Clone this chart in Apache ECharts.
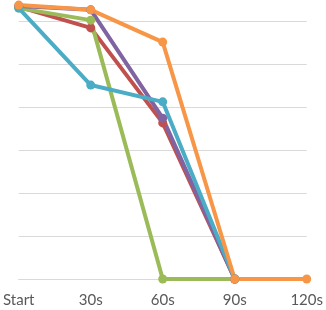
<!DOCTYPE html>
<html>
<head>
<meta charset="utf-8">
<script src="https://cdn.jsdelivr.net/npm/echarts@6/dist/echarts.min.js"></script>
<style>html,body{margin:0;padding:0;background:#fff;}#c{width:326px;height:310px;}</style>
</head>
<body>
<div id="c"></div>
<script>
const categories = ['Start', '30s', '60s', '90s', '120s'];
const redValues = [6.33, 5.84, 3.63, 0, null];
const greenValues = [6.3, 6.02, 0, 0, null];
const purpleValues = [6.35, 6.26, 3.74, 0, null];
const aquaValues = [6.3, 4.51, 4.12, 0, null];
const orangeValues = [6.37, 6.26, 5.51, 0, 0];

function mk(name, data, color) {
  return {
    name: name, type: 'line', data: data, symbol: 'circle', symbolSize: 9,
    lineStyle: { width: 4, color: color }, itemStyle: { color: color },
    connectNulls: false, clip: false, animation: false
  };
}
const chart = echarts.init(document.getElementById('c'));
chart.setOption({
  animation: false,
  grid: { left: 16, right: 18, top: 21, bottom: 31, containLabel: false },
  xAxis: {
    type: 'category', data: categories, boundaryGap: false,
    axisLine: { show: true, lineStyle: { color: '#d9d9d9', width: 1 } },
    axisTick: { show: false },
    axisLabel: { color: '#595959', fontSize: 15, fontFamily: 'Lato', margin: 14 }
  },
  yAxis: {
    type: 'value', min: 0, max: 6, interval: 1,
    axisLine: { show: false }, axisTick: { show: false }, axisLabel: { show: false },
    splitLine: { lineStyle: { color: '#d9d9d9', width: 1 } }
  },
  series: [
    mk('red', redValues, '#C0504D'),
    mk('green', greenValues, '#9BBB59'),
    mk('purple', purpleValues, '#8064A2'),
    mk('aqua', aquaValues, '#4BACC6'),
    mk('orange', orangeValues, '#F79646')
  ]
});
</script>
</body>
</html>
